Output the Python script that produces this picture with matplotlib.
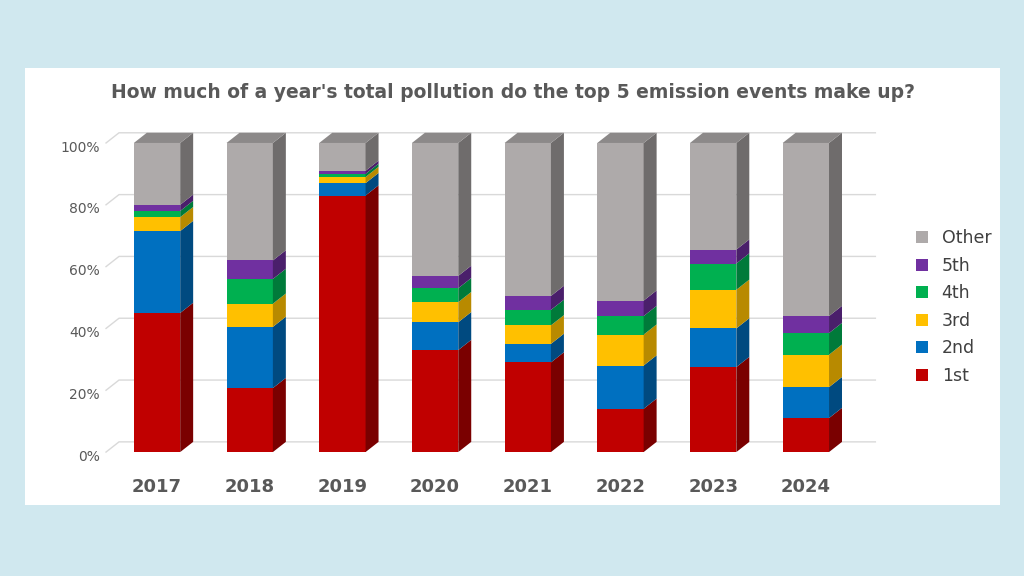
import matplotlib.pyplot as plt
import matplotlib.patches as mpatches
import numpy as np

years = ['2017', '2018', '2019', '2020', '2021', '2022', '2023', '2024']
first = [45, 20.7, 83, 33, 29, 14, 27.5, 11]
second = [26.5, 19.8, 4, 9, 6, 14, 12.5, 10]
third = [4.5, 7.5, 2, 6.5, 6, 10, 12.5, 10.5]
fourth = [2, 8, 1, 4.5, 5, 6, 8.5, 7]
fifth = [2, 6, 1, 4, 4.5, 5, 4.5, 5.5]
series = [first, second, third, fourth, fifth]
other = [100 - sum(s[i] for s in series) for i in range(len(years))]
series.append(other)
names = ['1st', '2nd', '3rd', '4th', '5th', 'Other']
colors = ['#c00000', '#0070c0', '#ffc000', '#00b050', '#7030a0', '#aeaaaa']
sides = ['#7a0000', '#004a80', '#b88a00', '#007a3a', '#4a1f6b', '#6f6c6c']
tops = ['#a00000', '#005a9a', '#d9a300', '#00913f', '#5c2785', '#8c8989']

fig = plt.figure(figsize=(10.24, 5.76), dpi=100)
fig.patch.set_facecolor('#d0e8ef')
fig.add_artist(mpatches.Rectangle((25 / 1024, 1 - 505 / 576), 975 / 1024, 437 / 576,
                                  transform=fig.transFigure, facecolor='white', edgecolor='none',
                                  zorder=-5))
fig.text(513 / 1024, 1 - 93 / 576, "How much of a year's total pollution do the top 5 emission events make up?",
         ha='center', va='center', fontsize=13.5, fontweight='bold', color='#595959')

ax = fig.add_axes([100 / 1024, 1 - 470 / 576, 780 / 1024, 340 / 576])
ax.patch.set_alpha(0)
ax.set_xlim(-0.615, 7.8)
ax.set_ylim(-5.8, 104.2)
ax.axis('off')

w, dx, dy = 0.5, 0.14, 3.3
for g in range(0, 101, 20):
    ax.plot([-0.55, -0.55 + dx, 7.75], [g, g + dy, g + dy], color='#d9d9d9', lw=1, zorder=0)
    ax.text(-0.62, g - 1.5, f'{g}%', ha='right', va='center', fontsize=10, color='#595959')

x = np.arange(len(years))
bottom = np.zeros(len(years))
for vals, c, sc, tc, name in zip(series, colors, sides, tops, names):
    vals = np.array(vals)
    ax.bar(x, vals, w, bottom=bottom, color=c, label=name, zorder=2)
    for xi, b, v in zip(x, bottom, vals):
        r = xi + w / 2
        ax.fill([r, r + dx, r + dx, r], [b, b + dy, b + v + dy, b + v], color=sc, lw=0, zorder=2)
    bottom = bottom + vals
for xi, b in zip(x, bottom):
    l, r = xi - w / 2, xi + w / 2
    ax.fill([l, r, r + dx, l + dx], [b, b, b + dy, b + dy], color=tops[-1], lw=0, zorder=2)

for xi, yr in zip(x, years):
    ax.text(xi, -11.3, yr, ha='center', va='center', fontsize=13, fontweight='bold', color='#595959')

h, lab = ax.get_legend_handles_labels()
fig.legend(h[::-1], lab[::-1], loc='center left', bbox_to_anchor=(900 / 1024, 1 - 307 / 576),
           frameon=False, fontsize=12.5, handlelength=0.7, handleheight=0.7,
           labelspacing=0.55, labelcolor='#404040')

plt.savefig('out.png', dpi=100, facecolor=fig.get_facecolor())
